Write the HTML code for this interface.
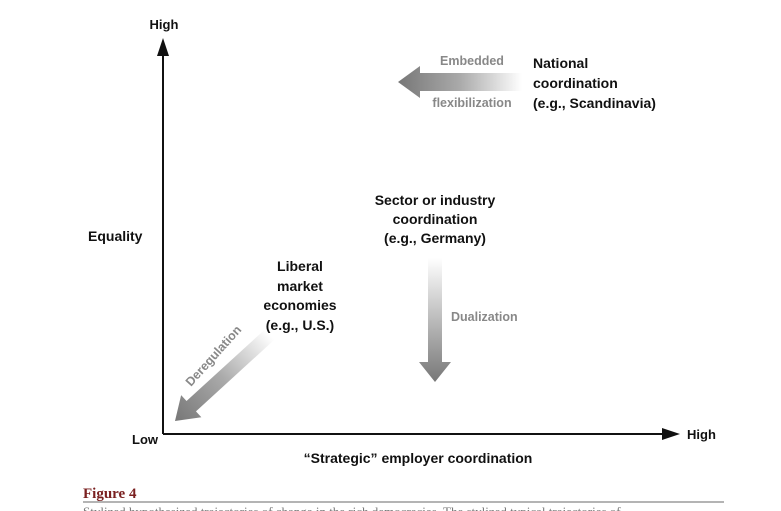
<!DOCTYPE html>
<html><head><style>
body{margin:0;background:#fff;width:781px;height:511px;overflow:hidden}
svg{display:block}
text{font-family:"Liberation Sans",sans-serif;font-weight:bold}
</style></head><body>
<svg width="781" height="511" viewBox="0 0 781 511">
<defs>
<linearGradient id="gL" x1="0" x2="1" y1="0" y2="0"><stop offset="0" stop-color="#777"/><stop offset="0.5" stop-color="#aaa"/><stop offset="1" stop-color="#fff"/></linearGradient>
<linearGradient id="gD" x1="0" x2="0" y1="0" y2="1"><stop offset="0" stop-color="#fff"/><stop offset="1" stop-color="#777"/></linearGradient>
</defs>
<line x1="163" y1="48" x2="163" y2="434" stroke="#111" stroke-width="2"/>
<polygon points="163,38 157,56 169,56" fill="#111"/>
<line x1="163" y1="434" x2="668" y2="434" stroke="#111" stroke-width="2"/>
<polygon points="680,434 662,428 662,440" fill="#111"/>
<text x="164" y="29" font-size="13" text-anchor="middle" fill="#111">High</text>
<text x="145" y="444" font-size="13" text-anchor="middle" fill="#111">Low</text>
<text x="687" y="439" font-size="13" fill="#111">High</text>
<text x="88" y="241" font-size="14" fill="#111">Equality</text>
<text x="418" y="463" font-size="14" text-anchor="middle" fill="#111">“Strategic” employer coordination</text>
<polygon points="398,82 420,66 420,73 522,73 522,91 420,91 420,98" fill="url(#gL)"/>
<text x="472" y="65" font-size="12.5" text-anchor="middle" fill="#888">Embedded</text>
<text x="472" y="107" font-size="12.5" text-anchor="middle" fill="#888">flexibilization</text>
<text x="533" y="68" font-size="14" fill="#111">National</text>
<text x="533" y="88" font-size="14" fill="#111">coordination</text>
<text x="533" y="108" font-size="14" fill="#111">(e.g., Scandinavia)</text>
<text x="435" y="205" font-size="14" text-anchor="middle" fill="#111">Sector or industry</text>
<text x="435" y="224" font-size="14" text-anchor="middle" fill="#111">coordination</text>
<text x="435" y="243" font-size="14" text-anchor="middle" fill="#111">(e.g., Germany)</text>
<polygon points="428,258 442,258 442,362 451,362 435,382 419,362 428,362" fill="url(#gD)"/>
<text x="451" y="321" font-size="12.5" fill="#888">Dualization</text>
<text x="300" y="271" font-size="14" text-anchor="middle" fill="#111">Liberal</text>
<text x="300" y="291" font-size="14" text-anchor="middle" fill="#111">market</text>
<text x="300" y="310" font-size="14" text-anchor="middle" fill="#111">economies</text>
<text x="300" y="330" font-size="14" text-anchor="middle" fill="#111">(e.g., U.S.)</text>
<g transform="translate(175,421) rotate(-42.4)">
<polygon points="0,0 22,-15 22,-7 128,-7 128,7 22,7 22,15" fill="url(#gL)"/>
</g>
<text x="0" y="0" font-size="12.5" fill="#888" transform="translate(191,387) rotate(-48)">Deregulation</text>
<text x="83" y="498" font-size="15" fill="#7a2020" style="font-family:'Liberation Serif',serif;font-weight:bold">Figure 4</text>
<line x1="83" y1="502" x2="724" y2="502" stroke="#888" stroke-width="1.2"/>
<text x="83" y="516" font-size="13" fill="#777" style="font-family:'Liberation Serif',serif;font-weight:normal">Stylized hypothesized trajectories of change in the rich democracies. The stylized typical trajectories of</text>
</svg>
</body></html>
